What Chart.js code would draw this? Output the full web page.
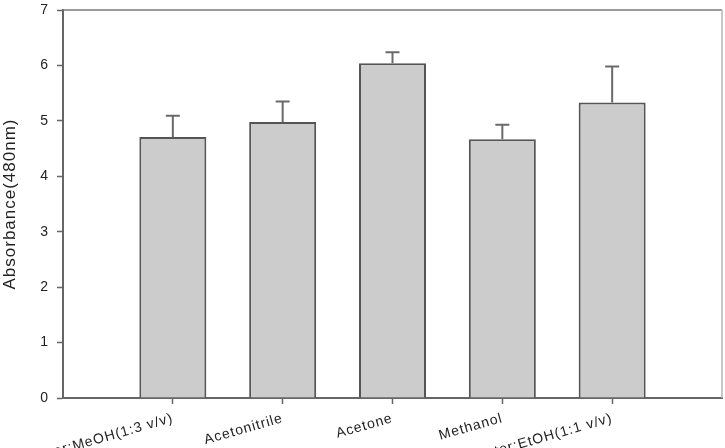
<!DOCTYPE html>
<html>
<head>
<meta charset="utf-8">
<script src="https://cdn.jsdelivr.net/npm/chart.js@4/dist/chart.umd.min.js"></script>
<style>
  html, body { margin: 0; padding: 0; background: #fff; overflow: hidden; }
  #wrap { width: 725px; height: 448px; position: relative; }
</style>
</head>
<body>
<div id="wrap"><canvas id="c" width="725" height="448"></canvas></div>
<script>
const categories = ['Water:MeOH(1:3 v/v)', 'Acetonitrile', 'Acetone', 'Methanol', 'Water:EtOH(1:1 v/v)'];
const absorbance = [4.71, 4.98, 6.04, 4.67, 5.33];
const errors = [0.38, 0.37, 0.20, 0.26, 0.65];
const yTicks = [0, 1, 2, 3, 4, 5, 6, 7];

// pad with empty slots at both ends (the x axis spans one empty slot each side)
const labels = [''].concat(categories, ['']);
const values = [null].concat(absorbance, [null]);
const errs = [null].concat(errors, [null]);

const FONT = '"Liberation Sans", Arial, sans-serif';

const spacing = {
  id: 'spacing',
  beforeDraw(chart) {
    if ('letterSpacing' in chart.ctx) chart.ctx.letterSpacing = '1px';
  }
};

const frame = {
  id: 'frame',
  beforeDatasetsDraw(chart) {
    const {ctx, chartArea: a} = chart;
    ctx.save();
    ctx.lineWidth = 1.5;
    ctx.strokeStyle = '#7a7a7a';
    ctx.beginPath(); ctx.moveTo(a.left, a.top); ctx.lineTo(a.right, a.top); ctx.stroke();
    ctx.strokeStyle = '#b5b5b5';
    ctx.beginPath(); ctx.moveTo(a.right, a.top); ctx.lineTo(a.right, a.bottom); ctx.stroke();
    ctx.restore();
  }
};

const errorBars = {
  id: 'errorBars',
  afterDatasetsDraw(chart) {
    const {ctx} = chart;
    const meta = chart.getDatasetMeta(0);
    const y = chart.scales.y;
    ctx.save();
    ctx.strokeStyle = '#6a6a6a';
    ctx.lineWidth = 2;
    meta.data.forEach((bar, i) => {
      const v = values[i], e = errs[i];
      if (v == null || e == null) return;
      const x = bar.x;
      const yTop = y.getPixelForValue(v + e);
      const yBar = y.getPixelForValue(v);
      ctx.beginPath();
      ctx.moveTo(x, yBar); ctx.lineTo(x, yTop);
      ctx.moveTo(x - 7, yTop); ctx.lineTo(x + 7, yTop);
      ctx.stroke();
    });
    ctx.restore();
  }
};

new Chart(document.getElementById('c'), {
  type: 'bar',
  data: {
    labels: labels,
    datasets: [{
      data: values,
      backgroundColor: '#cccccc',
      borderColor: '#555555',
      borderWidth: 2,
      categoryPercentage: 1,
      barPercentage: 0.61
    }]
  },
  options: {
    responsive: false,
    animation: false,
    devicePixelRatio: 1,
    layout: { padding: { left: 0, right: 3, top: 10, bottom: 0 } },
    plugins: { legend: { display: false }, tooltip: { enabled: false } },
    scales: {
      x: {
        offset: false,
        grid: {
          offset: false,
          drawOnChartArea: false,
          tickLength: 6,
          tickWidth: 1.5,
          tickColor: (c) => (c.index === 0 || c.index === labels.length - 1) ? 'rgba(0,0,0,0)' : '#666'
        },
        border: { color: '#666', width: 2 },
        ticks: {
          autoSkip: false,
          minRotation: 16,
          maxRotation: 16,
          padding: 6,
          color: '#222',
          font: { family: FONT, size: 14 }
        },
        afterFit(s) { s.height = 50; s.paddingLeft = 0; s.paddingRight = 0; }
      },
      y: {
        min: 0,
        max: 7,
        afterBuildTicks(s) { s.ticks = yTicks.map(v => ({ value: v })); },
        grid: { drawOnChartArea: false, tickLength: 6, tickWidth: 1.5, tickColor: '#666' },
        border: { color: '#666', width: 2 },
        ticks: {
          padding: 8,
          color: '#222',
          font: { family: FONT, size: 14 }
        },
        title: {
          display: true,
          text: 'Absorbance(480nm)',
          color: '#222',
          font: { family: FONT, size: 17 },
          padding: { top: 0, bottom: 6 }
        },
        afterFit(s) { s.width = 63; s.paddingTop = 0; s.paddingBottom = 0; }
      }
    }
  },
  plugins: [spacing, frame, errorBars]
});
</script>
</body>
</html>
